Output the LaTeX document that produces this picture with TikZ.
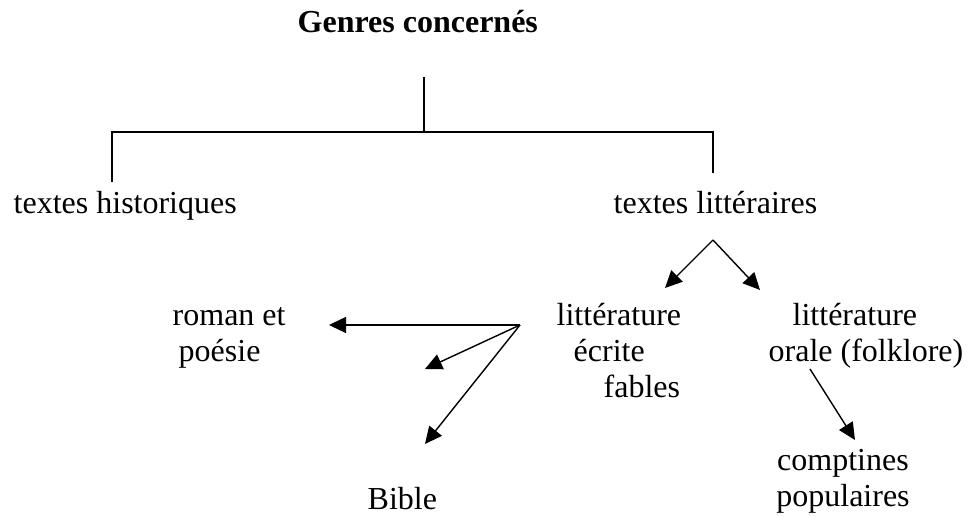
\documentclass[tikz,border=0pt]{standalone}
\usepackage{fontspec}
\setmainfont{Liberation Serif}
\usetikzlibrary{arrows.meta}

\tikzstyle{txt} = [inner sep=0pt, font=\fontsize{16}{18}\selectfont]
\tikzstyle{arr} = [-{Triangle[length=8.5pt,width=8pt]}]

\begin{document}
\begin{tikzpicture}[x=0.5pt, y=-0.5pt, line width=0.7pt]
    \useasboundingbox (0,0) rectangle (971,517);
    % Nodes (base = last line)
    \node[txt, font=\fontsize{16}{18}\selectfont\bfseries, anchor=base west] (genres) at (297,33) {Genres concernés};
    \node[txt, anchor=base west] (hist) at (13,214) {textes historiques};
    \node[txt, anchor=base west] (litt) at (613,214) {textes littéraires};
    \node[txt, anchor=base west, align=left] (ecrite) at (556,398) {littérature\\\hspace*{8.5pt}écrite\\\hspace*{23.5pt}fables};
    \node[txt, anchor=base west, align=left] (orale) at (768,362) {\hspace*{12pt}littérature\\orale (folklore)};
    \node[txt, anchor=base west, align=left] (roman) at (172,362) {roman et\\\hspace*{3pt}poésie};
    \node[txt, anchor=base west] (bible) at (367,510) {Bible};
    \node[txt, anchor=base, align=center] (compt) at (843,507) {comptines\\populaires};
    % Coordinates
    \coordinate (top) at (424,77);
    \coordinate (fork) at (424,132);
    \coordinate (hl) at (112,132);
    \coordinate (hr) at (713,132);
    \coordinate (hl-end) at (112,182);
    \coordinate (hr-end) at (713,173);
    \coordinate (litt-out) at (713,240);
    \coordinate (ecrite-in) at (665,288);
    \coordinate (orale-in) at (760,290);
    \coordinate (ecrite-out) at (520,325);
    \coordinate (roman-in) at (329,325);
    \coordinate (mid-in) at (425,369);
    \coordinate (bible-in) at (425,444);
    \coordinate (orale-out) at (810,369);
    \coordinate (compt-in) at (855,440);
    % Edges
    \draw (top) -- (fork);
    \draw (hl-end) -- (hl) -- (hr) -- (hr-end);
    \draw[arr] (litt-out) -- (ecrite-in);
    \draw[arr] (litt-out) -- (orale-in);
    \draw[arr] (ecrite-out) -- (roman-in);
    \draw[arr] (ecrite-out) -- (mid-in);
    \draw[arr] (ecrite-out) -- (bible-in);
    \draw[arr] (orale-out) -- (compt-in);
\end{tikzpicture}
\end{document}
